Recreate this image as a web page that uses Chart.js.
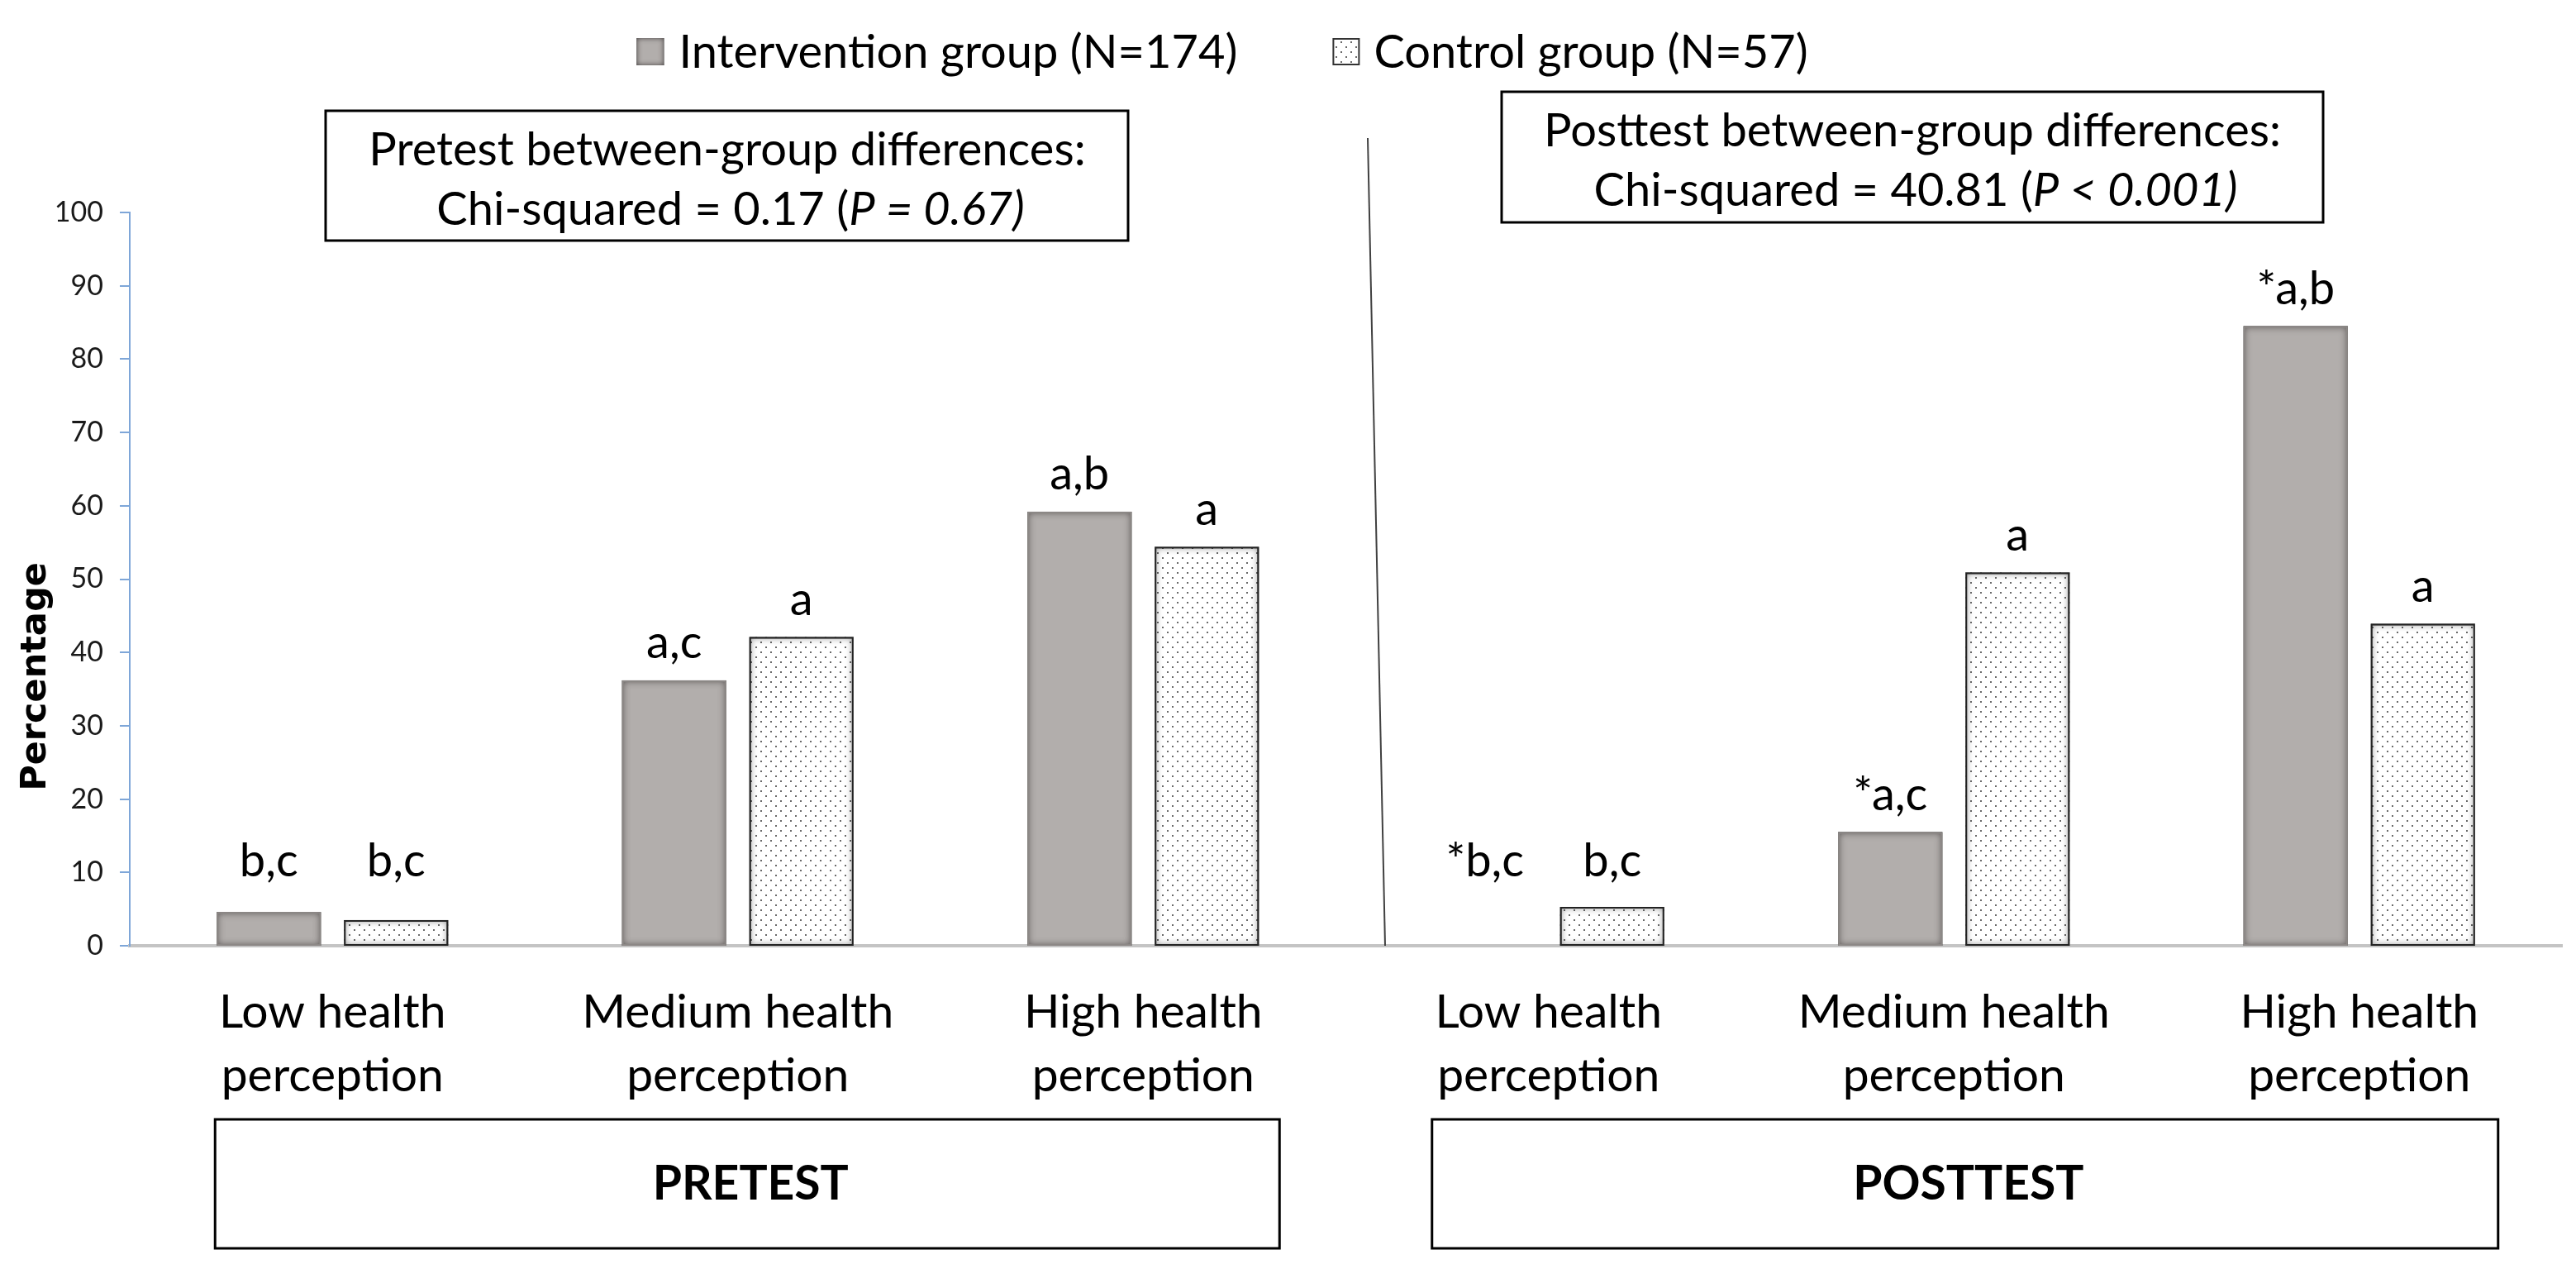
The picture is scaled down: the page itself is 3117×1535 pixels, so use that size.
<!DOCTYPE html>
<html>
<head>
<meta charset="utf-8">
<script src="https://cdn.jsdelivr.net/npm/chart.js@4"></script>
<style>
  html, body { margin: 0; padding: 0; background: #fff; }
  #wrap { width: 3117px; height: 1535px; position: relative; }
</style>
</head>
<body>
<div id="wrap"><canvas id="c"></canvas></div>
<script>
// ---------- data ----------
const categories = [
  ['Low health', 'perception'], ['Medium health', 'perception'], ['High health', 'perception'],
  ['Low health', 'perception'], ['Medium health', 'perception'], ['High health', 'perception']
];
const seriesNames = ['Intervention group (N=174)', 'Control group (N=57)'];
const interventionValues = [4.6, 36.2, 59.2, 0, 15.5, 84.5];
const controlValues = [3.5, 42.1, 54.4, 5.3, 50.9, 43.9];
const interventionMarks = ['b,c', 'a,c', 'a,b', '*b,c', '*a,c', '*a,b'];
const controlMarks = ['b,c', 'a', 'a', 'b,c', 'a', 'a'];
const phaseNames = ['PRETEST', 'POSTTEST'];
const yMin = 0, yMax = 100, yStep = 10;
const yTitle = 'Percentage';
const noteLine1 = ['Pretest between-group differences:', 'Posttest between-group differences:'];
const noteLine2Plain = ['Chi-squared = 0.17 (', 'Chi-squared = 40.81 ('];
const noteLine2Italic = ['P = 0.67)', 'P < 0.001)'];

// ---------- styles ----------
const FONT = 'Lato, "Open Sans", sans-serif';
const grayFill = '#b2aeac';

function makeDots() {
  const p = document.createElement('canvas');
  p.width = 12; p.height = 12;
  const g = p.getContext('2d');
  g.fillStyle = '#ffffff'; g.fillRect(0, 0, 12, 12);
  g.fillStyle = '#6a6a6a';
  g.fillRect(2, 2, 2, 2);
  g.fillRect(8, 8, 2, 2);
  return g.createPattern(p, 'repeat');
}
const ctxMain = document.getElementById('c').getContext('2d');
const dotPattern = makeDots();

function innerShadow(ctx, x, y, w, h, color, blur) {
  if (w <= 0 || h <= 0) return;
  ctx.save();
  ctx.beginPath(); ctx.rect(x, y, w, h); ctx.clip();
  ctx.shadowColor = color; ctx.shadowBlur = blur;
  ctx.lineWidth = 20; ctx.strokeStyle = '#000';
  ctx.strokeRect(x - 10, y - 10, w + 20, h + 20);
  ctx.restore();
}

const decorPlugin = {
  id: 'decor',
  beforeDraw(chart) {
    const c = chart.ctx;
    c.save(); c.fillStyle = '#fff'; c.fillRect(0, 0, chart.width, chart.height); c.restore();
  },
  afterDatasetsDraw(chart) {
    const c = chart.ctx;
    const y = chart.scales.y;
    const zero = y.getPixelForValue(0);
    chart.data.datasets.forEach((ds, di) => {
      chart.getDatasetMeta(di).data.forEach(bar => {
        const w = bar.width, left = bar.x - w / 2, top = bar.y, h = zero - bar.y;
        if (h < 1) return;
        innerShadow(c, left, top, w, h, di === 0 ? 'rgba(40,35,35,0.75)' : 'rgba(0,0,0,0.55)', 10);
        c.save(); c.strokeStyle = di === 0 ? '#8c8886' : '#222'; c.lineWidth = 2;
        c.strokeRect(left + 1, top + 1, w - 2, h - 2); c.restore();
      });
    });
    const marks = [interventionMarks, controlMarks];
    c.save();
    c.font = '56px ' + FONT; c.fillStyle = '#000'; c.textAlign = 'center'; c.textBaseline = 'middle';
    chart.data.datasets.forEach((ds, di) => {
      chart.getDatasetMeta(di).data.forEach((bar, i) => {
        const ly = Math.min(bar.y - 45, zero - 102);
        c.fillText(marks[di][i], bar.x, ly);
      });
    });
    c.restore();
  },
  afterDraw(chart) {
    const c = chart.ctx;
    const x = chart.scales.x, y = chart.scales.y;
    // y title
    c.save();
    c.translate(44, (y.top + y.bottom) / 2 + 118);
    c.rotate(-Math.PI / 2);
    c.font = 'bold 43px "DejaVu Sans", sans-serif'; c.fillStyle = '#000';
    c.textAlign = 'center'; c.textBaseline = 'middle';
    c.fillText(yTitle, 0, 0);
    c.restore();

    // legend
    c.save();
    c.font = '56px ' + FONT; c.textBaseline = 'middle';
    const w1 = c.measureText(seriesNames[0]).width, w2 = c.measureText(seriesNames[1]).width;
    const total = 33 + 18 + w1 + 115 + 33 + 17 + w2;
    let lx = 1479 - total / 2; const ly = 62;
    c.fillStyle = grayFill; c.fillRect(lx, ly - 16, 33, 33);
    innerShadow(c, lx, ly - 16, 33, 33, 'rgba(40,35,35,0.8)', 6);
    c.fillStyle = '#000'; c.fillText(seriesNames[0], lx + 51, ly + 2);
    lx += 51 + w1 + 115;
    c.fillStyle = dotPattern; c.fillRect(lx, ly - 16, 33, 33);
    c.strokeStyle = '#333'; c.lineWidth = 2; c.strokeRect(lx + 1, ly - 15, 31, 31);
    c.fillStyle = '#000'; c.fillText(seriesNames[1], lx + 50, ly + 2);
    c.restore();

    // top note boxes
    const boxes = [
      { l: 394, t: 134, r: 1365, b: 291, y1: 182, y2: 254, cx: 880 },
      { l: 1817, t: 111, r: 2811, b: 269, y1: 159, y2: 231, cx: 2314 }
    ];
    boxes.forEach((bx, k) => {
      c.save();
      c.fillStyle = '#fff'; c.fillRect(bx.l, bx.t, bx.r - bx.l, bx.b - bx.t);
      c.strokeStyle = '#000'; c.lineWidth = 3;
      c.strokeRect(bx.l, bx.t, bx.r - bx.l, bx.b - bx.t);
      c.fillStyle = '#000'; c.textBaseline = 'middle';
      c.font = '56px ' + FONT; c.textAlign = 'center';
      c.fillText(noteLine1[k], bx.cx, bx.y1);
      c.textAlign = 'left';
      const wp = c.measureText(noteLine2Plain[k]).width;
      c.font = 'italic 56px ' + FONT;
      const wi = c.measureText(noteLine2Italic[k]).width;
      const sx = bx.cx + 4 - (wp + wi) / 2;
      c.font = '56px ' + FONT;
      c.fillText(noteLine2Plain[k], sx, bx.y2);
      c.font = 'italic 56px ' + FONT;
      c.fillText(noteLine2Italic[k], sx + wp, bx.y2);
      c.restore();
    });

    // divider line
    c.save();
    c.strokeStyle = '#404040'; c.lineWidth = 2;
    c.beginPath(); c.moveTo(1655, 167); c.lineTo(1676, y.getPixelForValue(0)); c.stroke();
    c.restore();

    // phase boxes
    const phases = [
      { l: x.getPixelForValue(0) - 142, r: x.getPixelForValue(2) + 165 },
      { l: x.getPixelForValue(3) - 141, r: x.getPixelForValue(5) + 168 }
    ];
    phases.forEach((p, k) => {
      c.save();
      c.strokeStyle = '#000'; c.lineWidth = 3;
      c.strokeRect(p.l, 1354, p.r - p.l, 156);
      c.font = 'bold 57px ' + FONT; c.fillStyle = '#000';
      c.textAlign = 'center'; c.textBaseline = 'middle';
      c.fillText(phaseNames[k], (p.l + p.r) / 2 + 4, 1433);
      c.restore();
    });
  }
};

new Chart(ctxMain, {
  type: 'bar',
  data: {
    labels: categories,
    datasets: [
      { label: seriesNames[0], data: interventionValues, backgroundColor: grayFill,
        borderWidth: 0, categoryPercentage: 0.628, barPercentage: 0.818 },
      { label: seriesNames[1], data: controlValues, backgroundColor: dotPattern,
        borderWidth: 0, categoryPercentage: 0.628, barPercentage: 0.818 }
    ]
  },
  options: {
    responsive: true,
    maintainAspectRatio: false,
    animation: false,
    events: [],
    layout: { padding: { top: 257, right: 17, left: 0, bottom: 0 } },
    plugins: { legend: { display: false }, tooltip: { enabled: false }, title: { display: false } },
    scales: {
      x: {
        grid: { display: false, drawTicks: false },
        border: { display: true, color: '#c4c4c4', width: 4 },
        ticks: { font: { family: FONT, size: 57, lineHeight: 1.35 }, color: '#000', padding: 42,
                 maxRotation: 0, autoSkip: false },
        afterFit(s) { s.height = 391; }
      },
      y: {
        min: yMin, max: yMax,
        grid: { display: true, drawOnChartArea: false, drawTicks: true, tickLength: 12, color: '#7ea6d8', lineWidth: 2 },
        border: { display: true, color: '#7ea6d8', width: 2 },
        ticks: { stepSize: yStep, font: { family: FONT, size: 34 }, color: '#1a1a1a', padding: 20 },
        afterFit(s) { s.width = 157; }
      }
    }
  },
  plugins: [decorPlugin]
});
</script>
</body>
</html>
